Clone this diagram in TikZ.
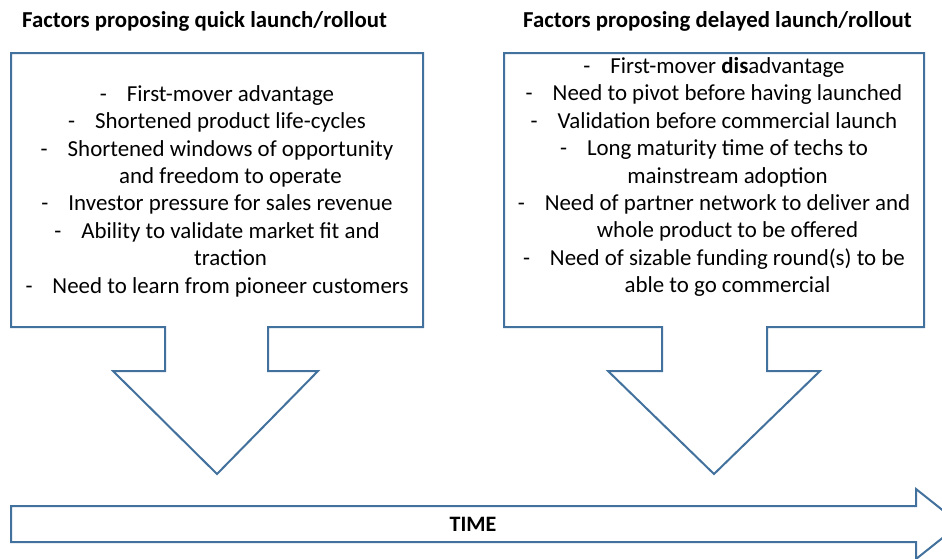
\documentclass[tikz,border=0pt]{standalone}
\usepackage{fontspec}
\setmainfont{Carlito}
\usetikzlibrary{positioning}
\definecolor{outline}{RGB}{65,113,156}
\newcommand{\dashline}[1]{\makebox[27pt][l]{-}#1}
\newcommand{\wrapline}[1]{\hspace*{27pt}#1}

\begin{document}
\begin{tikzpicture}[
    x=1pt, y=-1pt,
    callout/.style={draw=outline, line width=2pt, line join=miter},
    heading/.style={font=\fontsize{22.8}{27}\selectfont\bfseries, anchor=west, inner sep=0pt},
    factors/.style={align=center, font=\fontsize{22.9}{27.4}\selectfont, inner sep=0pt}
]
    \useasboundingbox (0,0) rectangle (942,558);
    \clip (0,0) rectangle (942,558);

    % headings
    \node[heading] (quickhead) at (22,21) {Factors proposing quick launch/rollout};
    \node[heading] (delayhead) at (523,21) {Factors proposing delayed launch/rollout};

    % callouts pointing down
    \draw[callout] (11,53) -- (423,53) -- (423,327) -- (268,327) -- (268,371) -- (318,371) -- (217,474)
        -- (113,371) -- (165,371) -- (165,327) -- (11,327) -- cycle;
    \draw[callout] (504,53) -- (924,53) -- (924,327) -- (767,327) -- (767,371) -- (820,371) -- (714,474)
        -- (608,371) -- (662,371) -- (662,327) -- (504,327) -- cycle;

    \node[factors] (quicklist) at (217,191) {
        \dashline{First-mover advantage}\\
        \dashline{Shortened product life-cycles}\\
        \dashline{Shortened windows of opportunity}\\
        \wrapline{and freedom to operate}\\
        \dashline{Investor pressure for sales revenue}\\
        \dashline{Ability to validate market fit and}\\
        \wrapline{traction}\\
        \dashline{Need to learn from pioneer customers}};
    \node[factors] (delaylist) at (714,177) {
        \dashline{First-mover \textbf{dis}advantage}\\
        \dashline{Need to pivot before having launched}\\
        \dashline{Validation before commercial launch}\\
        \dashline{Long maturity time of techs to}\\
        \wrapline{mainstream adoption}\\
        \dashline{Need of partner network to deliver and}\\
        \wrapline{whole product to be offered}\\
        \dashline{Need of sizable funding round(s) to be}\\
        \wrapline{able to go commercial}};

    % time axis
    \draw[callout] (11,506) -- (916,506) -- (916,489) -- (960,524) -- (916,559) -- (916,542) -- (11,542) -- cycle;
    \node[font=\fontsize{22}{26}\selectfont\bfseries] (time) at (473,524) {TIME};
\end{tikzpicture}
\end{document}
